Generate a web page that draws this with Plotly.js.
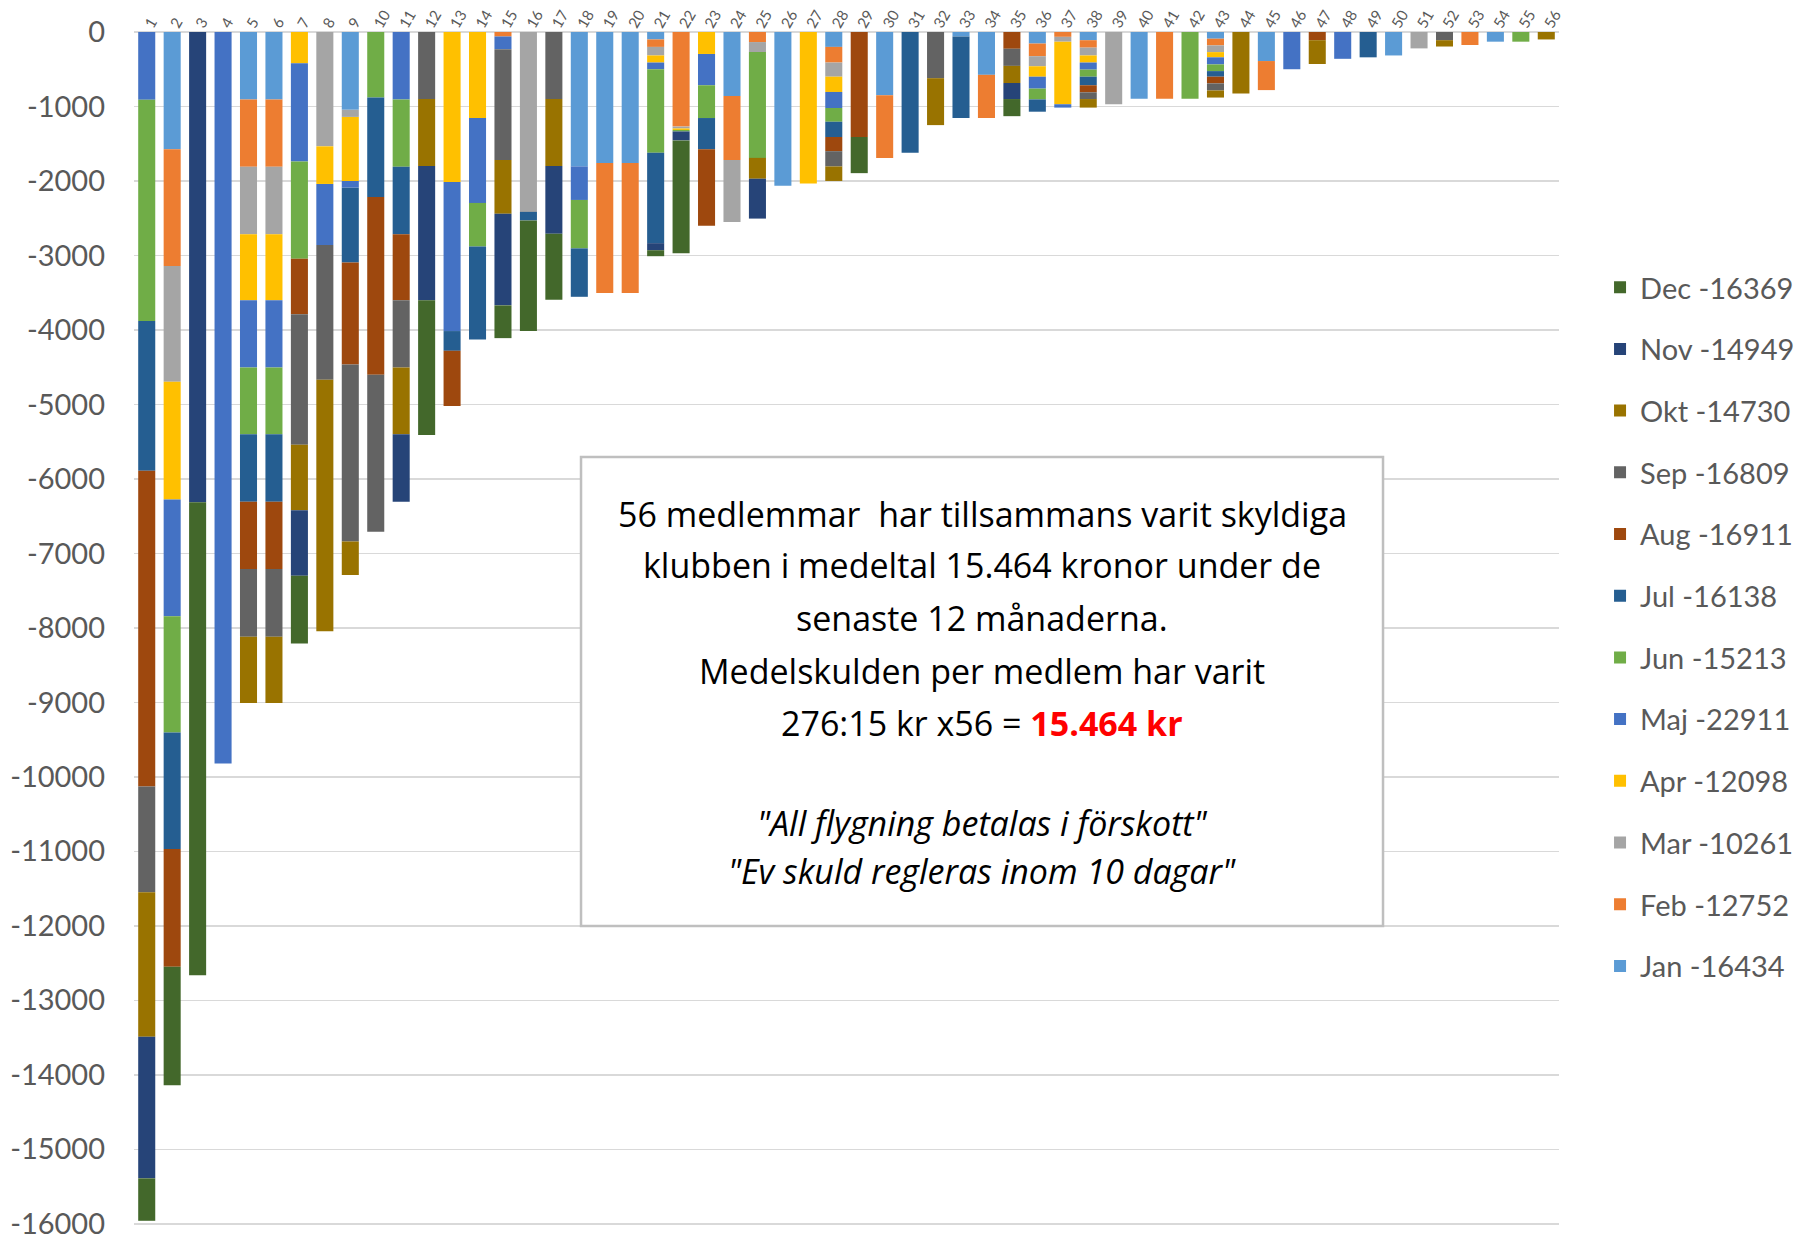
<!DOCTYPE html>
<html>
<head>
<meta charset="utf-8">
<script src="https://cdn.plot.ly/plotly-3.0.1.min.js"></script>
<style>
html,body{margin:0;padding:0;background:#fff;}
#chart{width:1815px;height:1244px;}
</style>
</head>
<body>
<div id="chart"></div>
<script>
// Member numbers (categories)
const members = ["1","2","3","4","5","6","7","8","9","10","11","12","13","14","15","16","17","18","19","20",
  "21","22","23","24","25","26","27","28","29","30","31","32","33","34","35","36","37","38","39","40",
  "41","42","43","44","45","46","47","48","49","50","51","52","53","54","55","56"];

// Monthly debt per member (kr)
const jan = [0,-1575,0,0,-905,-905,0,0,-1045,0, 0,0,0,0,0,0,0,-1805,-1760,-1760, -100,0,0,-860,0,-2065,0,-200,0,-850, 0,0,-60,-575,0,-155,0,-110,0,-895, 0,0,-90,0,-390,0,0,0,0,-315, 0,0,0,-130,0,0];
const feb = [0,-1565,0,0,-905,-905,0,0,0,0, 0,0,0,0,-60,0,0,0,-1745,-1745, -100,-1270,0,-860,-135,0,0,-210,0,-840, 0,0,0,-580,0,-170,-65,-100,0,0, -895,0,-90,0,-390,0,0,0,0,0, 0,0,-175,0,0,0];
const mar = [0,-1555,0,0,-905,-905,0,-1535,-95,0, 0,0,0,0,0,-2415,0,0,0,0, -115,-25,0,-830,-135,0,0,-190,0,0, 0,0,0,0,0,-135,-65,-105,-970,0, 0,0,-90,0,0,0,0,0,0,0, -220,0,0,0,0,0];
const apr = [0,-1580,0,0,-885,-885,-420,-505,-860,0, 0,0,-2015,-1155,0,0,0,0,0,0, -95,-20,-295,0,0,0,-2035,-205,0,0, 0,0,0,0,0,-140,-840,-95,0,0, 0,0,-70,0,0,0,0,0,0,0, 0,0,0,0,0,0];
const maj = [-910,-1570,0,-9820,-905,-905,-1320,-820,-90,0, -905,0,-2000,-1140,-170,0,0,-450,0,0, -90,0,-420,0,0,0,0,-215,0,0, 0,0,0,0,0,-160,-45,-95,0,0, 0,0,-95,0,0,-500,0,-360,0,0, 0,0,0,0,0,0];
const jun = [-2970,-1560,0,0,-895,-895,-1305,0,0,-880, -905,0,0,-585,0,0,0,-650,0,0, -1120,-20,-440,0,-1420,0,0,-185,0,0, 0,0,0,0,0,-145,0,-95,0,0, 0,-895,-90,0,0,0,0,0,0,0, 0,0,0,0,-130,0];
const jul = [-2010,-1565,0,0,-905,-905,0,0,-1005,-1335, -905,0,-265,-1250,0,-115,0,-650,0,0, -1215,0,-420,0,0,0,0,-205,0,0, -1620,0,-1095,0,0,-165,0,-115,0,0, 0,0,-75,0,0,0,0,0,-340,0, 0,0,0,0,0,0];
const aug = [-4240,-1580,0,0,-905,-905,-745,0,-1370,-2385, -885,0,-740,0,0,0,0,0,0,0, 0,0,-1025,0,0,0,0,-190,-1410,0, 0,0,0,0,-225,0,0,-95,0,0, 0,0,-90,0,0,0,-110,0,0,0, 0,0,0,0,0,0];
const sep = [-1420,0,0,0,-910,-910,-1750,-1810,-2375,-2110, -905,-900,0,0,-1490,0,-900,0,0,0, 0,0,0,0,0,0,0,-205,0,0, 0,-620,0,0,-230,0,0,-90,0,0, 0,0,-95,0,0,0,0,0,0,0, 0,-110,0,0,0,0];
const okt = [-1940,0,0,0,-890,-890,-880,-3375,-450,0, -895,-900,0,0,-720,0,-900,0,0,0, 0,0,0,0,-280,0,0,-195,0,0, 0,-630,0,0,-230,0,0,-115,0,0, 0,0,-95,-825,0,0,-320,0,0,0, 0,-85,0,0,0,-100];
const nov = [-1900,0,-6315,0,0,0,-880,0,0,0, -905,-1800,0,0,-1230,0,-910,0,0,0, -95,-120,0,0,-535,0,0,0,0,0, 0,0,0,0,-215,0,0,0,0,0, 0,0,0,0,0,0,0,0,0,0, 0,0,0,0,0,0];
const dec = [-570,-1590,-6350,0,0,0,-910,0,0,0, 0,-1810,0,0,-440,-1485,-885,0,0,0, -80,-1515,0,0,0,0,0,0,-485,0, 0,0,0,0,-230,0,0,0,0,0, 0,0,0,0,0,0,0,0,0,0, 0,0,0,0,0,0];

// Legend labels (month and yearly total)
const seriesNames = ["Jan -16434","Feb -12752","Mar -10261","Apr -12098","Maj -22911","Jun -15213",
  "Jul -16138","Aug -16911","Sep -16809","Okt -14730","Nov -14949","Dec -16369"];
const seriesColors = ["#5B9BD5","#ED7D31","#A5A5A5","#FFC000","#4472C4","#70AD47",
  "#255E91","#9E480E","#636363","#997300","#264478","#43682B"];
const seriesValues = [jan,feb,mar,apr,maj,jun,jul,aug,sep,okt,nov,dec];

// Y axis ticks
const yTickVals = [0,-1000,-2000,-3000,-4000,-5000,-6000,-7000,-8000,-9000,-10000,-11000,-12000,-13000,-14000,-15000,-16000];
const yTickText = ["0","-1000","-2000","-3000","-4000","-5000","-6000","-7000","-8000","-9000","-10000","-11000","-12000","-13000","-14000","-15000","-16000"];

// Text box lines
const boxLines = [
  "56 medlemmar  har tillsammans varit skyldiga",
  "klubben i medeltal 15.464 kronor under de",
  "senaste 12 månaderna.",
  "Medelskulden per medlem har varit",
  "276:15 kr x56 = <b><span style=\"color:#FF0000\">15.464 kr</span></b>",
  "<i>\"All flygning betalas i förskott\"</i>",
  "<i>\"Ev skuld regleras inom 10 dagar\"</i>"
];
const boxLineY = [0.5960,0.5538,0.5095,0.4651,0.4211,0.3372,0.2970];

const FONT = "Lato, 'Open Sans', sans-serif";
const BOXFONT = "'Open Sans', Lato, sans-serif";

const traces = seriesValues.map((vals, i) => ({
  type: "bar",
  x: members,
  y: vals,
  name: seriesNames[i],
  legendgroup: "g" + i,
  legendrank: 100 - i,
  marker: {color: seriesColors[i], line: {width: 0}},
  hoverinfo: "skip"
}));

const annotations = boxLines.map((t, i) => ({
  xref: "paper", yref: "paper",
  x: 0.5951, y: boxLineY[i],
  xanchor: "center", yanchor: "middle",
  text: t, showarrow: false,
  font: {family: BOXFONT, size: 34, color: "#000000"}
}));

const layout = {
  width: 1815, height: 1244,
  paper_bgcolor: "#ffffff", plot_bgcolor: "#ffffff",
  margin: {l: 134, r: 256, t: 32, b: 18, pad: 0},
  barmode: "relative",
  bargap: 0.33,
  font: {family: FONT, color: "#595959"},
  xaxis: {
    type: "category",
    side: "top",
    tickangle: -60,
    tickfont: {family: FONT, size: 15, color: "#595959"},
    showgrid: false,
    showline: false,
    zeroline: false,
    ticks: "",
    ticklabelstandoff: -5,
    fixedrange: true
  },
  yaxis: {
    range: [-16030, 0],
    tickmode: "array",
    tickvals: yTickVals,
    ticktext: yTickText,
    tickfont: {family: FONT, size: 29, color: "#595959"},
    ticklabeloverflow: "allow",
    showgrid: true,
    gridcolor: "#D9D9D9",
    gridwidth: 1.5,
    zeroline: true,
    zerolinecolor: "#D9D9D9",
    zerolinewidth: 1.5,
    showline: false,
    ticks: "",
    ticklabelstandoff: 28,
    fixedrange: true
  },
  showlegend: true,
  legend: {
    x: 1.0288, xanchor: "left",
    y: 0.8075, yanchor: "top",
    traceorder: "grouped",
    tracegroupgap: 21,
    font: {family: FONT, size: 29, color: "#595959"},
    bgcolor: "rgba(0,0,0,0)"
  },
  shapes: [{
    type: "rect", xref: "paper", yref: "paper",
    x0: 0.3137, x1: 0.8765, y0: 0.2513, y1: 0.6440,
    line: {color: "#BFBFBF", width: 2.5},
    fillcolor: "#ffffff",
    layer: "above"
  }],
  annotations: annotations
};

Plotly.newPlot("chart", traces, layout, {staticPlot: true, displayModeBar: false});
</script>
</body>
</html>
